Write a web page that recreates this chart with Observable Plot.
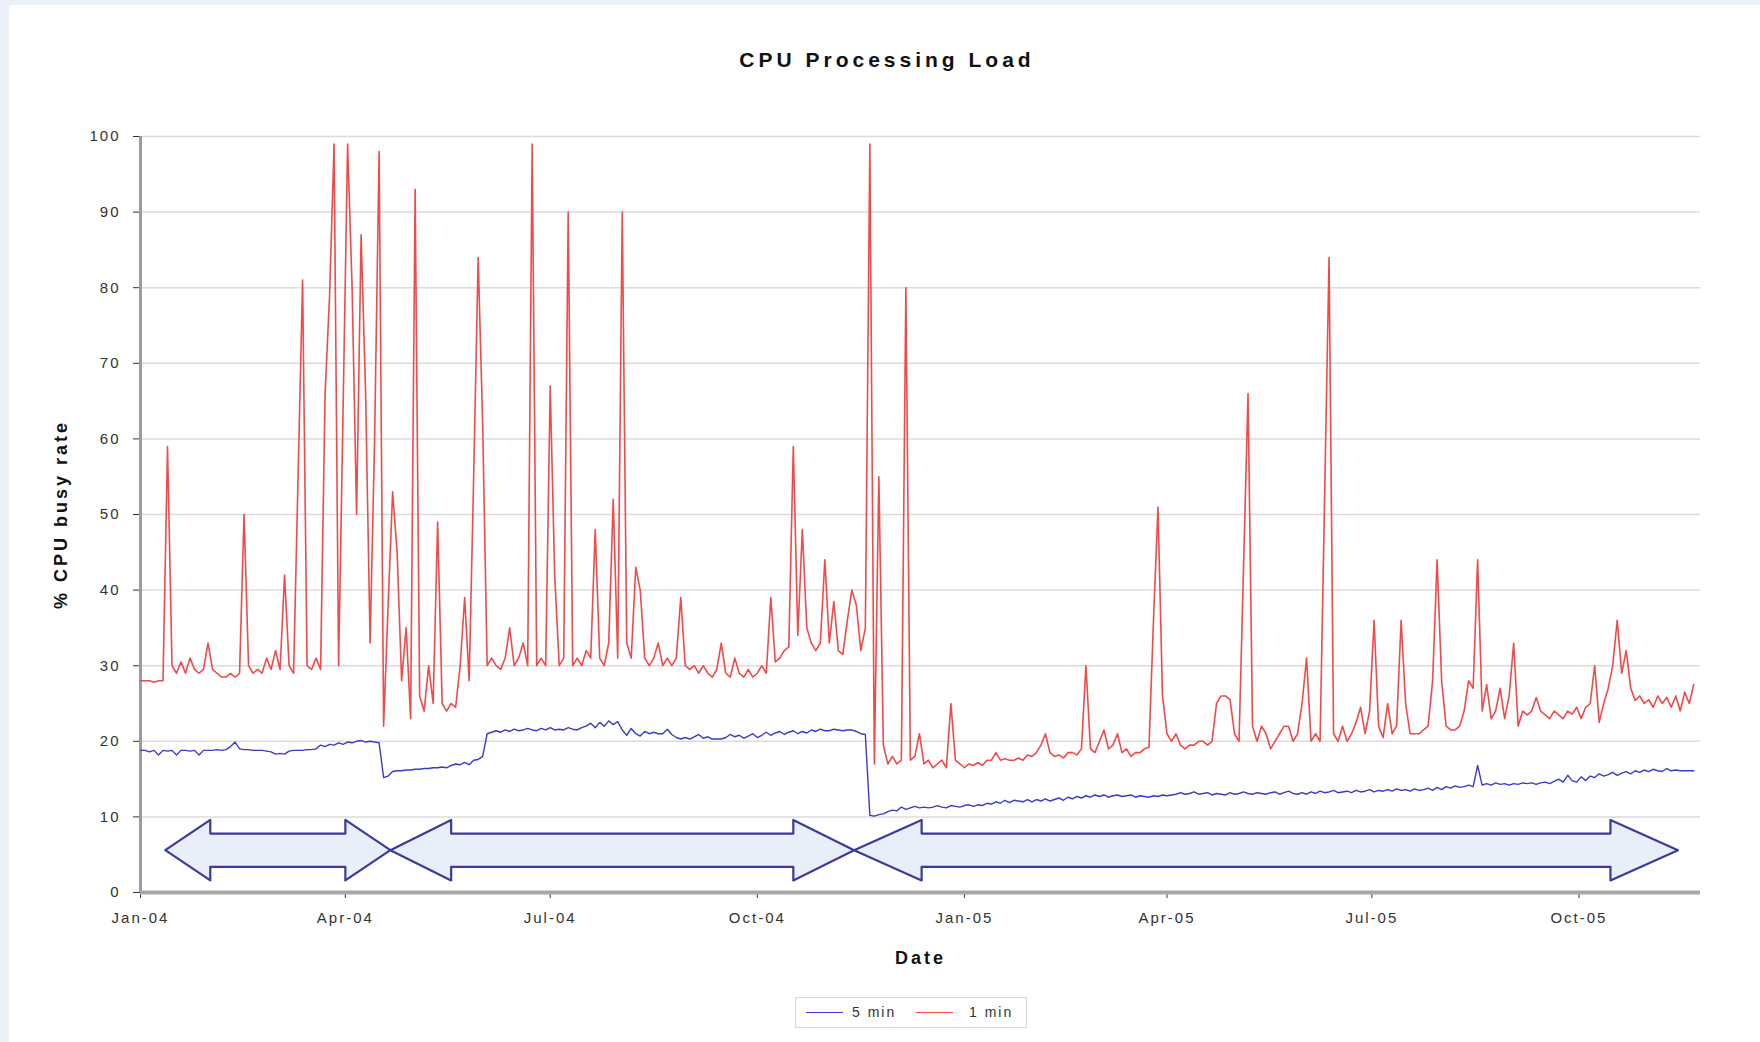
<!DOCTYPE html>
<html>
<head>
<meta charset="utf-8">
<script src="https://cdn.jsdelivr.net/npm/d3@7"></script>
<script src="https://cdn.jsdelivr.net/npm/@observablehq/plot@0.6"></script>
<style>
  html, body { margin: 0; padding: 0; }
  body { width: 1760px; height: 1042px; background: #ebf1f9; position: relative; overflow: hidden;
         font-family: "Liberation Sans", Arial, sans-serif; }
  #panel { position: absolute; left: 9px; top: 5px; width: 1751px; height: 1037px; background: #ffffff; }
  #title { position: absolute; left: 587px; top: 48px; width: 600px; text-align: center;
           font-size: 21px; line-height: 24px; font-weight: bold; letter-spacing: 4px; color: #111; }
  #chart { position: absolute; left: 0; top: 100px; }
  #chart svg text { letter-spacing: 2px; }
  #chart g[aria-label="y-axis label"] text, #chart g[aria-label="x-axis label"] text {
    font-weight: bold; font-size: 18px; letter-spacing: 3px; fill: #111; }
  #legend { position: absolute; left: 795px; top: 997px; width: 232px; height: 31px;
            border: 1px solid #d8d8d8; box-sizing: border-box; background: #fff;
            font-size: 14px; letter-spacing: 2px; color: #333; }
  .sw { position: absolute; top: 14px; height: 0; border-top: 1.5px solid; }
  .lt { position: absolute; top: 6px; line-height: 16px; }
</style>
</head>
<body>
<div id="panel"></div>
<div id="title">CPU Processing Load</div>
<div id="chart"></div>
<div id="legend"></div>
<script>
// ---- data ----
const startDate = "2004-01-01";   // first sample
const stepDays = 2;               // samples every two days
const seriesNames = ["5 min", "1 min"];
const seriesColors = ["#3b3bc8", "#f24a4a"];

// "1 min" CPU busy rate, %
const oneMin = [
  28, 28, 28, 27.8, 28, 28, 59, 30, 29, 30.5,
  29, 31, 29.5, 29, 29.5, 33, 29.5, 29, 28.5, 28.5,
  29, 28.5, 29, 50, 30, 29, 29.5, 29, 31, 29.5,
  32, 29.5, 42, 30, 29, 55, 81, 30, 29.5, 31,
  29.5, 66, 79, 99, 30, 64, 99, 80, 50, 87,
  66, 33, 60, 98, 22, 38, 53, 45, 28, 35,
  23, 93, 26, 24, 30, 25, 49, 25, 24, 25,
  24.5, 30, 39, 28, 55, 84, 62, 30, 31, 30,
  29.5, 31, 35, 30, 31, 33, 30, 99, 30, 31,
  30, 67, 42, 30, 31, 90, 30, 31, 30, 32,
  31, 48, 31, 30, 33, 52, 31, 90, 33, 31,
  43, 40, 31, 30, 31, 33, 30, 31, 30, 31,
  39, 30, 29.5, 30, 29, 30, 29, 28.5, 29.5, 33,
  29, 28.5, 31, 29, 28.5, 29.5, 28.5, 29, 30, 29,
  39, 30.5, 31, 32, 32.5, 59, 34, 48, 35, 33,
  32, 33, 44, 33, 38.5, 32, 31.5, 36, 40, 38,
  32, 35, 99, 17, 55, 19.5, 17, 18, 17, 17.5,
  80, 17.5, 18, 21, 17, 17.5, 16.5, 17, 17.5, 16.5,
  25, 17.5, 17, 16.5, 17, 16.8, 17.2, 16.8, 17.5, 17.5,
  18.5, 17.5, 17.7, 17.5, 17.5, 17.8, 17.5, 18.2, 18, 18.5,
  19.5, 21, 18.5, 18, 18.2, 17.8, 18.5, 18.5, 18.2, 19,
  30, 19, 18.5, 20, 21.5, 19, 19.5, 21, 18.5, 19,
  18, 18.5, 18.5, 19, 19.2, 36, 51, 26, 21, 20,
  21, 19.5, 19, 19.5, 19.5, 20, 20, 19.5, 20, 25,
  26, 26, 25.5, 21, 20, 43, 66, 22, 20, 22,
  21, 19, 20, 21, 22, 22, 20, 21, 25, 31,
  20, 21, 20, 52, 84, 21, 20, 22, 20, 21,
  22.5, 24.5, 21, 24, 36, 22, 20.5, 25, 21, 22,
  36, 25, 21, 21, 21, 21.5, 22, 28, 44, 28,
  22, 21.5, 21.5, 22, 24, 28, 27, 44, 24, 27.5,
  23, 24, 27, 23, 26, 33, 22, 24, 23.5, 24,
  25.8, 24, 23.5, 23, 24, 23.5, 23, 24, 23.6, 24.5,
  23, 24.5, 25, 30, 22.5, 25, 27, 30, 36, 29,
  32, 27, 25.4, 26, 25, 25.5, 24.5, 26, 25, 25.8,
  24.5, 26, 24, 26.5, 25, 27.5
];

// "5 min" CPU busy rate, %
const fiveMin = [
  18.8, 18.8, 18.6, 18.8, 18.2, 18.8, 18.7, 18.8, 18.2, 18.8,
  18.8, 18.7, 18.8, 18.2, 18.8, 18.8, 18.8, 18.9, 18.8, 18.9,
  19.3, 19.9, 19.0, 18.9, 18.9, 18.8, 18.8, 18.8, 18.7, 18.6,
  18.3, 18.4, 18.3, 18.7, 18.8, 18.8, 18.8, 18.9, 18.9, 19.0,
  19.5, 19.3, 19.6, 19.5, 19.8, 19.6, 19.9, 19.8, 20.0, 20.1,
  19.9, 20.0, 19.9, 19.8, 15.2, 15.4, 16.0, 16.1, 16.1, 16.2,
  16.2, 16.3, 16.3, 16.4, 16.4, 16.5, 16.5, 16.6, 16.5, 16.8,
  17.0, 16.9, 17.2, 16.9, 17.5, 17.6, 18.0, 21.0, 21.2, 21.4,
  21.2, 21.5, 21.3, 21.6, 21.4, 21.5, 21.7, 21.5, 21.4, 21.7,
  21.5, 21.8, 21.5, 21.6, 21.5, 21.8, 21.6, 21.5, 21.8, 22.0,
  22.4, 21.8, 22.5, 22.0, 22.7, 22.2, 22.6, 21.5, 20.8, 21.7,
  21.0, 20.7, 21.3, 21.0, 21.2, 21.0, 21.0, 21.6, 20.9, 20.5,
  20.3, 20.5, 20.3, 20.6, 20.9, 20.4, 20.6, 20.3, 20.3, 20.3,
  20.5, 20.9, 20.6, 20.8, 20.4, 20.7, 21.0, 20.5, 20.8, 21.2,
  20.8, 21.1, 21.3, 20.9, 21.2, 21.4, 21.0, 21.3, 21.1, 21.5,
  21.3, 21.6, 21.4, 21.4, 21.6, 21.5, 21.4, 21.5, 21.5, 21.3,
  21.0, 20.9, 10.2, 10.1, 10.3, 10.4, 10.7, 10.9, 10.8, 11.3,
  11.0, 11.2, 11.4, 11.2, 11.3, 11.2, 11.3, 11.5, 11.3, 11.2,
  11.5, 11.4, 11.3, 11.5, 11.6, 11.4, 11.6, 11.5, 11.8, 11.7,
  12.0, 11.8, 12.2, 11.9, 12.2, 12.1, 12.0, 12.3, 12.0, 12.3,
  12.1, 12.4, 12.1, 12.3, 12.5, 12.2, 12.6, 12.4, 12.7, 12.5,
  12.8, 12.6, 12.9, 12.7, 12.9, 12.6, 12.8, 12.9, 12.7, 12.8,
  12.9, 12.6, 12.8, 12.7, 12.6, 12.8, 12.7, 12.9, 12.8, 12.9,
  13.0, 13.2, 13.0, 13.1, 13.3, 13.0, 13.1, 13.2, 12.9, 13.1,
  13.0, 12.9, 13.2, 13.0, 13.1, 13.3, 13.1, 13.0, 13.2, 13.1,
  13.0, 13.2, 13.3, 13.0, 13.2, 13.4, 13.1, 13.0, 13.2, 13.0,
  13.3, 13.1, 13.4, 13.2, 13.3, 13.5, 13.2, 13.3, 13.4, 13.2,
  13.5, 13.3, 13.4, 13.6, 13.3, 13.5, 13.4, 13.6, 13.4, 13.7,
  13.5, 13.6, 13.4, 13.7, 13.5, 13.6, 13.8, 13.5, 13.9, 13.6,
  14.0, 13.8, 14.1, 13.9, 14.0, 14.2, 14.0, 16.8, 14.2, 14.4,
  14.2, 14.5, 14.3, 14.4, 14.2, 14.4, 14.3, 14.5, 14.4, 14.5,
  14.3, 14.5, 14.6, 14.4, 14.7, 15.0, 14.6, 15.5, 14.8, 14.6,
  15.3, 14.8, 15.4, 15.2, 15.7, 15.4, 15.6, 15.9, 15.5, 15.8,
  16.0, 15.7, 16.1, 15.9, 16.2, 16.0, 16.3, 16.1, 16.0, 16.4,
  16.1, 16.2, 16.1, 16.1, 16.1, 16.1
];

// axis ticks
const yTicks = [0, 10, 20, 30, 40, 50, 60, 70, 80, 90, 100];
const xTickDates = ["2004-01-01", "2004-04-01", "2004-07-01", "2004-10-01",
                    "2005-01-01", "2005-04-01", "2005-07-01", "2005-10-01"];
const xDomainDates = ["2004-01-01", "2005-11-24"];

// period annotations (double-headed arrows)
const periodFrom = ["2004-01-12", "2004-04-21", "2004-11-13"];
const periodTo   = ["2004-04-21", "2004-11-13", "2005-11-14"];
const periodHeadDays = [20, 27, 30];

// ---- build ----
const parse = d3.utcParse("%Y-%m-%d");
const t0 = parse(startDate);
const toRows = (vals, name) => vals.map((v, i) => ({date: d3.utcDay.offset(t0, i * stepDays), value: v, series: name}));
const blueRows = toRows(fiveMin, seriesNames[0]);
const redRows = toRows(oneMin, seriesNames[1]);

// arrow outlines in data space (date, %)
const arrowMid = 5.6, shaftHalf = 2.2, headHalf = 4.0;
const arrowPts = [];
periodFrom.forEach((f, k) => {
  const a = parse(f), b = parse(periodTo[k]);
  const ha = d3.utcDay.offset(a, periodHeadDays[k]);
  const hb = d3.utcDay.offset(b, -periodHeadDays[k]);
  const pts = [
    [a, arrowMid], [ha, arrowMid + headHalf], [ha, arrowMid + shaftHalf],
    [hb, arrowMid + shaftHalf], [hb, arrowMid + headHalf], [b, arrowMid],
    [hb, arrowMid - headHalf], [hb, arrowMid - shaftHalf], [ha, arrowMid - shaftHalf],
    [ha, arrowMid - headHalf]
  ];
  pts.forEach(([x, y]) => arrowPts.push({id: k, x, y}));
});

const xDomain = xDomainDates.map(parse);

const chart = Plot.plot({
  width: 1760,
  height: 890,
  marginLeft: 140,
  marginRight: 60,
  marginTop: 36,
  marginBottom: 98,
  style: {fontFamily: "'Liberation Sans', Arial, sans-serif", fontSize: "15px", color: "#333", background: "transparent"},
  x: {type: "utc", domain: xDomain},
  y: {domain: [0, 100]},
  marks: [
    Plot.gridY(yTicks.filter(d => d > 0), {stroke: "#dcdcdc", strokeOpacity: 1, strokeWidth: 1.5}),
    Plot.axisY({ticks: yTicks, tickSize: 7, tickPadding: 13, tickFormat: d => String(d),
                label: "% CPU busy rate", labelAnchor: "center", labelArrow: "none", labelOffset: 86}),
    Plot.axisX({ticks: xTickDates.map(parse), tickFormat: d3.utcFormat("%b-%y"), tickSize: 6, tickPadding: 14,
                label: "Date", labelAnchor: "center", labelArrow: "none", labelOffset: 71}),
    Plot.ruleX([xDomain[0]], {y1: 0, y2: 100, stroke: "#9c9c9c", strokeWidth: 3}),
    Plot.ruleY([0], {stroke: "#a8a8a8", strokeWidth: 4}),
    Plot.line(blueRows, {x: "date", y: "value", stroke: seriesColors[0], strokeWidth: 1.4}),
    Plot.line(redRows, {x: "date", y: "value", stroke: seriesColors[1], strokeWidth: 1.6}),
    Plot.line(arrowPts, {x: "x", y: "y", z: "id", curve: "linear-closed",
                         fill: "#e9eff8", stroke: "#3d3a9c", strokeWidth: 2.2})
  ]
});
document.getElementById("chart").appendChild(chart);

// legend
const lg = document.getElementById("legend");
const swX = [10, 120], txX = [56, 173];
seriesNames.forEach((n, i) => {
  const s = document.createElement("div");
  s.className = "sw";
  s.style.left = swX[i] + "px";
  s.style.width = "37px";
  s.style.borderColor = seriesColors[i];
  lg.appendChild(s);
  const t = document.createElement("div");
  t.className = "lt";
  t.style.left = txX[i] + "px";
  t.textContent = n;
  lg.appendChild(t);
});
</script>
</body>
</html>
